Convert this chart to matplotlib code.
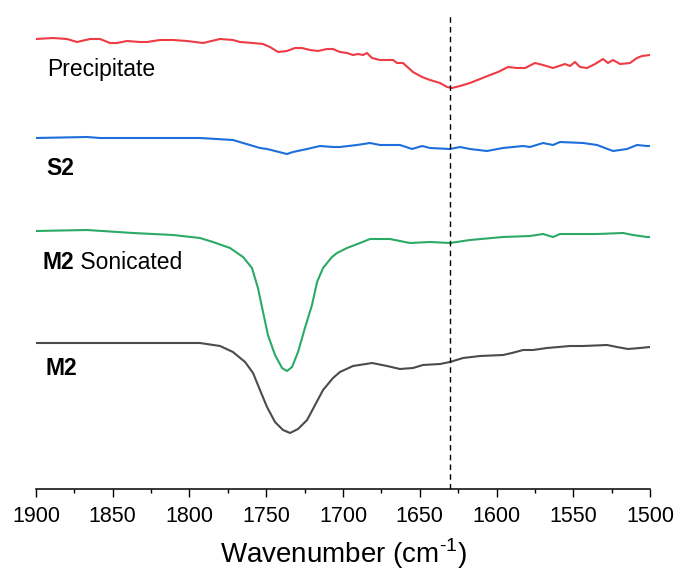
import matplotlib
matplotlib.use("Agg")
import matplotlib.pyplot as plt
from matplotlib.ticker import MultipleLocator

plt.rcParams['font.family'] = ['Liberation Sans', 'DejaVu Sans']
plt.rcParams['mathtext.fontset'] = 'custom'
plt.rcParams['mathtext.rm'] = 'Liberation Sans'
plt.rcParams['axes.unicode_minus'] = False

# ---- data (wavenumber in cm^-1, intensity in arbitrary stacked units) ----
precip_wn = [1900, 1888.9, 1879.8, 1873.3, 1864.8, 1858.3, 1851.8, 1847.2, 1840.7, 1832.2,
             1827.7, 1819.2, 1810.7, 1801.6, 1791.2, 1780.1, 1771.7, 1767.1, 1758.6, 1752.1,
             1747.6, 1742.3, 1736.5, 1731.3, 1726.7, 1721.5, 1716.3, 1710.4, 1706.5, 1702.0,
             1697.4, 1693.5, 1690.2, 1687.0, 1684.4, 1681.1, 1675.9, 1671.3, 1667.4, 1664.8,
             1660.9, 1654.4, 1648.5, 1643.3, 1636.8, 1632.2, 1629.0, 1623.8, 1617.3, 1610.7,
             1604.2, 1599.0, 1592.5, 1586.6, 1581.4, 1574.9, 1569.7, 1563.2, 1555.4, 1552.1,
             1548.9, 1545.6, 1541.0, 1535.8, 1530.6, 1527.4, 1524.1, 1519.5, 1513.0, 1508.5,
             1505.2, 1500]
precip_val = [449, 450, 449, 446, 449, 449, 445, 445, 447, 446,
              446, 448, 448, 447, 445, 449, 448, 446, 445, 444,
              441, 436, 437, 440, 440, 438, 437, 439, 439, 436,
              435, 433, 434, 433, 435, 430, 428, 428, 428, 425,
              425, 416, 411, 408, 405, 401, 400, 402, 405, 409,
              413, 416, 421, 420, 420, 425, 423, 420, 424, 422,
              426, 421, 420, 424, 429, 425, 428, 424, 425, 430,
              432, 433]

s2_wn = [1900, 1866.8, 1858.3, 1825.7, 1793.2, 1771.7, 1754.1, 1749.5, 1736.5, 1732.6,
         1723.4, 1715.0, 1706.5, 1702.0, 1690.9, 1682.4, 1675.9, 1662.9, 1655.0, 1648.5,
         1643.3, 1630.3, 1623.8, 1617.3, 1606.2, 1595.8, 1582.7, 1578.2, 1569.7, 1563.2,
         1558.6, 1543.6, 1534.5, 1524.1, 1515.0, 1508.5, 1502.0, 1500]
s2_val = [350, 351, 350, 350, 350, 348, 340, 339, 334, 336,
          339, 342, 341, 341, 343, 345, 343, 343, 339, 342,
          340, 339, 341, 339, 337, 340, 342, 341, 345, 343,
          346, 345, 343, 337, 339, 343, 342, 342]

m2son_wn = [1900, 1866.8, 1836.8, 1810.7, 1793.2, 1784.7, 1773.6, 1765.1, 1759.3, 1755.4,
            1752.1, 1748.9, 1744.3, 1739.7, 1736.5, 1733.2, 1729.3, 1724.8, 1720.2, 1716.9,
            1713.0, 1707.2, 1703.9, 1697.4, 1688.9, 1682.4, 1669.4, 1656.4, 1643.3, 1630.3,
            1617.3, 1595.8, 1578.2, 1569.7, 1563.2, 1558.6, 1534.5, 1517.6, 1511.1, 1502.0,
            1500]
m2son_val = [257, 258, 255, 253, 250, 246, 240, 231, 220, 200,
             176, 153, 133, 120, 117, 121, 136, 160, 183, 206,
             220, 231, 235, 240, 245, 249, 249, 245, 246, 245,
             248, 251, 252, 254, 251, 254, 254, 255, 253, 251,
             251]

m2_wn = [1900, 1836.8, 1793.2, 1780.1, 1771.7, 1763.8, 1758.6, 1754.1, 1749.5, 1744.3,
         1739.1, 1734.5, 1729.3, 1723.4, 1718.2, 1713.0, 1706.5, 1702.0, 1693.5, 1681.1,
         1671.3, 1662.9, 1654.4, 1647.9, 1636.8, 1630.3, 1621.8, 1610.7, 1595.8, 1589.9,
         1582.7, 1576.2, 1567.1, 1552.1, 1543.6, 1528.0, 1521.5, 1514.3, 1506.5, 1500]
m2_val = [145, 145, 145, 142, 136, 126, 115, 98, 81, 66,
          58, 55, 59, 68, 83, 98, 110, 116, 122, 125,
          122, 119, 120, 123, 124, 126, 130, 132, 133, 135,
          138, 138, 140, 142, 142, 143, 141, 139, 140, 141]

marker_wn = 1630
x_ticks = [1900, 1850, 1800, 1750, 1700, 1650, 1600, 1550, 1500]

# ---- figure ----
W, H = 675, 574
fig = plt.figure(figsize=(W / 100, H / 100), dpi=100)
ax = fig.add_axes([36 / W, (H - 489) / H, (650 - 36) / W, 480 / H])

lw = 1.5
ax.plot(precip_wn, precip_val, color='#EE3B44', lw=lw)
ax.plot(s2_wn, s2_val, color='#1E6EDC', lw=lw)
ax.plot(m2son_wn, m2son_val, color='#2BAA66', lw=lw)
ax.plot(m2_wn, m2_val, color='#4B4B4B', lw=lw)

ax.vlines(marker_wn, -1, 475, colors='black', linestyles=(0, (4, 3)), lw=1.0)

ax.set_xlim(1900, 1500)
ax.set_ylim(-1, 479)

for s in ['top', 'right', 'left']:
    ax.spines[s].set_visible(False)
ax.spines['bottom'].set_linewidth(1.1)
ax.set_yticks([])
ax.set_xticks(x_ticks)
ax.xaxis.set_minor_locator(MultipleLocator(25))
ax.tick_params(axis='x', which='major', direction='out', length=6, width=1.0,
               labelsize=15.5, pad=6)
ax.tick_params(axis='x', which='minor', direction='out', length=3, width=1.0)
ax.set_xlabel('Wavenumber (cm$^{\\text{-1}}$)', fontsize=20, labelpad=7)

fs = 16.5
ax.text(1893, 412, 'Precipitate', fontsize=fs, va='baseline', ha='left')
ax.text(1893, 313, 'S2', fontsize=fs, fontweight='bold', va='baseline', ha='left')
t = ax.text(1896, 219, 'M2', fontsize=fs, fontweight='bold', va='baseline', ha='left')
ax.annotate(' Sonicated', xycoords=t, xy=(1, 0), fontsize=fs, va='bottom', ha='left')
ax.text(1894, 113, 'M2', fontsize=fs, fontweight='bold', va='baseline', ha='left')

fig.savefig('out.png', dpi=100)
